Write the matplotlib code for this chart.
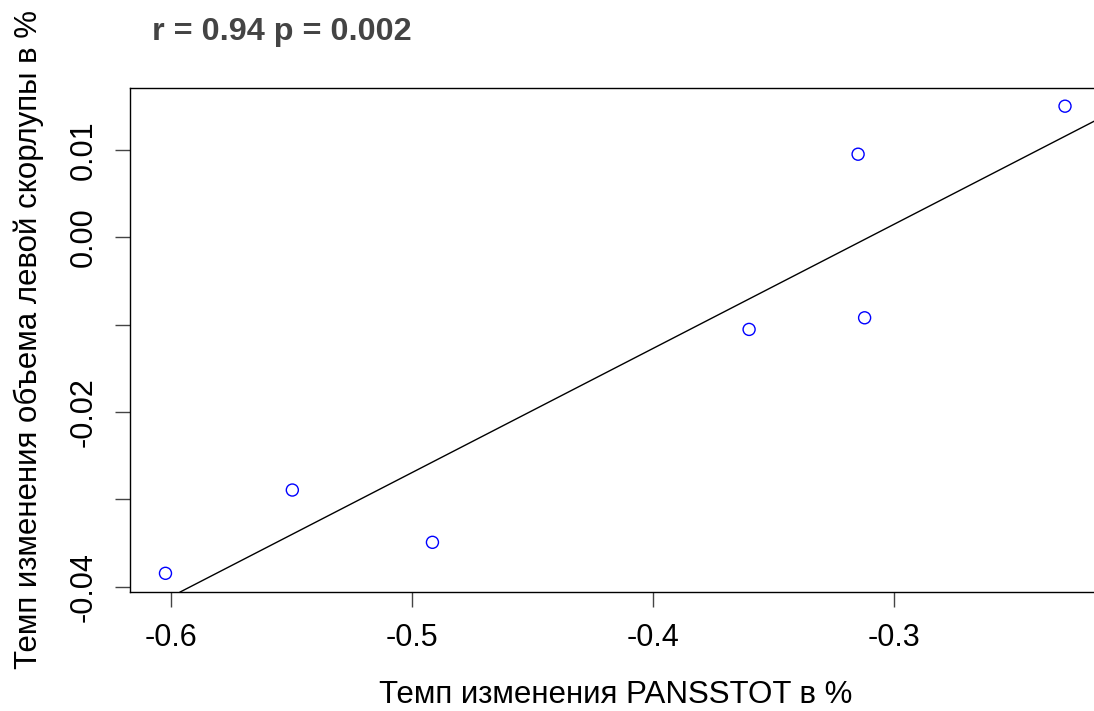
import numpy as np
import matplotlib.pyplot as plt

plt.rcParams['font.family'] = ['Liberation Sans', 'DejaVu Sans']

# change rates, %
panss = [-0.6022, -0.5496, -0.4915, -0.3602, -0.3150, -0.3123, -0.2292]
volume = [-0.03847, -0.02893, -0.03492, -0.01053, 0.00954, -0.00920, 0.01504]

x_ticks = [-0.6, -0.5, -0.4, -0.3]
y_ticks = [-0.04, -0.03, -0.02, -0.01, 0.00, 0.01]
y_labels = ['-0.04', '', '-0.02', '', '0.00', '0.01']

fig = plt.figure(figsize=(10.94, 7.11), dpi=100)
# right edge of the box runs past the figure border
ax = fig.add_axes([129.5 / 1094, 1 - 592 / 711, 971.5 / 1094, 504.5 / 711])

ax.scatter(panss, volume, s=75, facecolors='none', edgecolors='blue', linewidths=1.0, zorder=3)

# least squares line
k, b = np.polyfit(panss, volume, 1)
ax.axline((0, b), slope=k, color='black', linewidth=1.0)

x0, x1 = min(panss), max(panss)
y0, y1 = min(volume), max(volume)
dx, dy = (x1 - x0) * 0.04, (y1 - y0) * 0.04
ax.set_xlim(x0 - dx, x1 + dx)
ax.set_ylim(y0 - dy, y1 + dy)

ax.set_xticks(x_ticks)
ax.set_xticklabels([str(t) for t in x_ticks])
ax.set_yticks(y_ticks)
ax.set_yticklabels(y_labels, rotation=90, va='center')
ax.tick_params(direction='out', length=11, width=1, labelsize=22, pad=11, color='#444444')

for s in ax.spines.values():
    s.set_linewidth(1.0)

ax.set_xlabel('Темп изменения PANSSTOT в %', fontsize=22.5, labelpad=20)
ax.set_ylabel('Темп изменения объема левой скорлупы в %', fontsize=22.5, labelpad=18)

fig.text(152 / 1094, 1 - 40 / 711, 'r = 0.94 p = 0.002', fontsize=23.3, fontweight='bold',
         color='#444444', ha='left', va='baseline')

fig.savefig('out.png', dpi=100)
